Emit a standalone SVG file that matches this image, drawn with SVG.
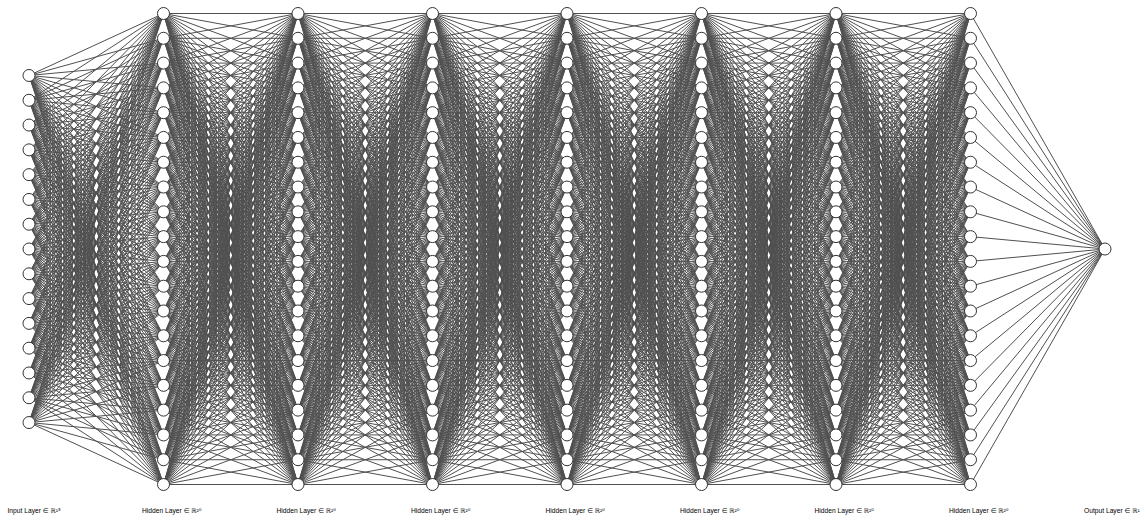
<svg xmlns="http://www.w3.org/2000/svg" width="1141" height="518" viewBox="0 0 1141 518">
<style>
.edge{stroke:#505050;fill:none}
.edge line{stroke-width:1;vector-effect:non-scaling-stroke}
.node circle{fill:#ffffff;stroke:#333333;stroke-width:1}
.label{font-family:"Liberation Sans","DejaVu Sans",sans-serif;font-size:6.7px;fill:#000000}
</style>
<rect width="1141" height="518" fill="#ffffff"/>
<defs>
<g id="fan20" class="edge">
<line x1="0" y1="0" x2="134.5" y2="0" vector-effect="non-scaling-stroke"/>
<line x1="0" y1="0" x2="134.5" y2="24.79" vector-effect="non-scaling-stroke"/>
<line x1="0" y1="0" x2="134.5" y2="49.58" vector-effect="non-scaling-stroke"/>
<line x1="0" y1="0" x2="134.5" y2="74.37" vector-effect="non-scaling-stroke"/>
<line x1="0" y1="0" x2="134.5" y2="99.16" vector-effect="non-scaling-stroke"/>
<line x1="0" y1="0" x2="134.5" y2="123.95" vector-effect="non-scaling-stroke"/>
<line x1="0" y1="0" x2="134.5" y2="148.74" vector-effect="non-scaling-stroke"/>
<line x1="0" y1="0" x2="134.5" y2="173.53" vector-effect="non-scaling-stroke"/>
<line x1="0" y1="0" x2="134.5" y2="198.32" vector-effect="non-scaling-stroke"/>
<line x1="0" y1="0" x2="134.5" y2="223.11" vector-effect="non-scaling-stroke"/>
<line x1="0" y1="0" x2="134.5" y2="247.9" vector-effect="non-scaling-stroke"/>
<line x1="0" y1="0" x2="134.5" y2="272.69" vector-effect="non-scaling-stroke"/>
<line x1="0" y1="0" x2="134.5" y2="297.48" vector-effect="non-scaling-stroke"/>
<line x1="0" y1="0" x2="134.5" y2="322.27" vector-effect="non-scaling-stroke"/>
<line x1="0" y1="0" x2="134.5" y2="347.06" vector-effect="non-scaling-stroke"/>
<line x1="0" y1="0" x2="134.5" y2="371.85" vector-effect="non-scaling-stroke"/>
<line x1="0" y1="0" x2="134.5" y2="396.64" vector-effect="non-scaling-stroke"/>
<line x1="0" y1="0" x2="134.5" y2="421.43" vector-effect="non-scaling-stroke"/>
<line x1="0" y1="0" x2="134.5" y2="446.22" vector-effect="non-scaling-stroke"/>
<line x1="0" y1="0" x2="134.5" y2="471.01" vector-effect="non-scaling-stroke"/>
</g>
<g id="pairH">
<use href="#fan20"/>
<use href="#fan20" transform="matrix(1,-0.184312,0,1,0,24.79)"/>
<use href="#fan20" transform="matrix(1,-0.368624,0,1,0,49.58)"/>
<use href="#fan20" transform="matrix(1,-0.552936,0,1,0,74.37)"/>
<use href="#fan20" transform="matrix(1,-0.737248,0,1,0,99.16)"/>
<use href="#fan20" transform="matrix(1,-0.92156,0,1,0,123.95)"/>
<use href="#fan20" transform="matrix(1,-1.105872,0,1,0,148.74)"/>
<use href="#fan20" transform="matrix(1,-1.290184,0,1,0,173.53)"/>
<use href="#fan20" transform="matrix(1,-1.474496,0,1,0,198.32)"/>
<use href="#fan20" transform="matrix(1,-1.658808,0,1,0,223.11)"/>
<use href="#fan20" transform="matrix(1,-1.84312,0,1,0,247.9)"/>
<use href="#fan20" transform="matrix(1,-2.027432,0,1,0,272.69)"/>
<use href="#fan20" transform="matrix(1,-2.211744,0,1,0,297.48)"/>
<use href="#fan20" transform="matrix(1,-2.396056,0,1,0,322.27)"/>
<use href="#fan20" transform="matrix(1,-2.580368,0,1,0,347.06)"/>
<use href="#fan20" transform="matrix(1,-2.76468,0,1,0,371.85)"/>
<use href="#fan20" transform="matrix(1,-2.948992,0,1,0,396.64)"/>
<use href="#fan20" transform="matrix(1,-3.133304,0,1,0,421.43)"/>
<use href="#fan20" transform="matrix(1,-3.317616,0,1,0,446.22)"/>
<use href="#fan20" transform="matrix(1,-3.501928,0,1,0,471.01)"/>
</g>
</defs>
<g id="connectors">
<g id="edges-input-h1" transform="translate(29,13.5)">
<use href="#fan20" transform="matrix(1,-0.46078,0,1,0,61.975)"/>
<use href="#fan20" transform="matrix(1,-0.645092,0,1,0,86.765)"/>
<use href="#fan20" transform="matrix(1,-0.829404,0,1,0,111.555)"/>
<use href="#fan20" transform="matrix(1,-1.013716,0,1,0,136.345)"/>
<use href="#fan20" transform="matrix(1,-1.198028,0,1,0,161.135)"/>
<use href="#fan20" transform="matrix(1,-1.38234,0,1,0,185.925)"/>
<use href="#fan20" transform="matrix(1,-1.566652,0,1,0,210.715)"/>
<use href="#fan20" transform="matrix(1,-1.750964,0,1,0,235.505)"/>
<use href="#fan20" transform="matrix(1,-1.935276,0,1,0,260.295)"/>
<use href="#fan20" transform="matrix(1,-2.119588,0,1,0,285.085)"/>
<use href="#fan20" transform="matrix(1,-2.3039,0,1,0,309.875)"/>
<use href="#fan20" transform="matrix(1,-2.488212,0,1,0,334.665)"/>
<use href="#fan20" transform="matrix(1,-2.672524,0,1,0,359.455)"/>
<use href="#fan20" transform="matrix(1,-2.856836,0,1,0,384.245)"/>
<use href="#fan20" transform="matrix(1,-3.041148,0,1,0,409.035)"/>
</g>
<use id="edges-h1-h2" href="#pairH" transform="translate(163.5,13.5)"/>
<use id="edges-h2-h3" href="#pairH" transform="translate(298,13.5)"/>
<use id="edges-h3-h4" href="#pairH" transform="translate(432.5,13.5)"/>
<use id="edges-h4-h5" href="#pairH" transform="translate(567,13.5)"/>
<use id="edges-h5-h6" href="#pairH" transform="translate(701.5,13.5)"/>
<use id="edges-h6-h7" href="#pairH" transform="translate(836,13.5)"/>
<use id="edges-h7-out" href="#fan20" transform="translate(1105,13.5) scale(-1,1) matrix(1,-1.750964,0,1,0,235.505)"/>
</g>
<g id="layer-input">
<g id="in0" class="node"><circle cx="29" cy="75.48" r="6"/></g>
<g id="in1" class="node"><circle cx="29" cy="100.27" r="6"/></g>
<g id="in2" class="node"><circle cx="29" cy="125.06" r="6"/></g>
<g id="in3" class="node"><circle cx="29" cy="149.85" r="6"/></g>
<g id="in4" class="node"><circle cx="29" cy="174.64" r="6"/></g>
<g id="in5" class="node"><circle cx="29" cy="199.43" r="6"/></g>
<g id="in6" class="node"><circle cx="29" cy="224.22" r="6"/></g>
<g id="in7" class="node"><circle cx="29" cy="249.01" r="6"/></g>
<g id="in8" class="node"><circle cx="29" cy="273.8" r="6"/></g>
<g id="in9" class="node"><circle cx="29" cy="298.59" r="6"/></g>
<g id="in10" class="node"><circle cx="29" cy="323.38" r="6"/></g>
<g id="in11" class="node"><circle cx="29" cy="348.17" r="6"/></g>
<g id="in12" class="node"><circle cx="29" cy="372.96" r="6"/></g>
<g id="in13" class="node"><circle cx="29" cy="397.75" r="6"/></g>
<g id="in14" class="node"><circle cx="29" cy="422.54" r="6"/></g>
</g>
<g id="layer-h1">
<g id="h1_0" class="node"><circle cx="163.5" cy="13.5" r="6"/></g>
<g id="h1_1" class="node"><circle cx="163.5" cy="38.29" r="6"/></g>
<g id="h1_2" class="node"><circle cx="163.5" cy="63.08" r="6"/></g>
<g id="h1_3" class="node"><circle cx="163.5" cy="87.87" r="6"/></g>
<g id="h1_4" class="node"><circle cx="163.5" cy="112.66" r="6"/></g>
<g id="h1_5" class="node"><circle cx="163.5" cy="137.45" r="6"/></g>
<g id="h1_6" class="node"><circle cx="163.5" cy="162.24" r="6"/></g>
<g id="h1_7" class="node"><circle cx="163.5" cy="187.03" r="6"/></g>
<g id="h1_8" class="node"><circle cx="163.5" cy="211.82" r="6"/></g>
<g id="h1_9" class="node"><circle cx="163.5" cy="236.61" r="6"/></g>
<g id="h1_10" class="node"><circle cx="163.5" cy="261.4" r="6"/></g>
<g id="h1_11" class="node"><circle cx="163.5" cy="286.19" r="6"/></g>
<g id="h1_12" class="node"><circle cx="163.5" cy="310.98" r="6"/></g>
<g id="h1_13" class="node"><circle cx="163.5" cy="335.77" r="6"/></g>
<g id="h1_14" class="node"><circle cx="163.5" cy="360.56" r="6"/></g>
<g id="h1_15" class="node"><circle cx="163.5" cy="385.35" r="6"/></g>
<g id="h1_16" class="node"><circle cx="163.5" cy="410.14" r="6"/></g>
<g id="h1_17" class="node"><circle cx="163.5" cy="434.93" r="6"/></g>
<g id="h1_18" class="node"><circle cx="163.5" cy="459.72" r="6"/></g>
<g id="h1_19" class="node"><circle cx="163.5" cy="484.51" r="6"/></g>
</g>
<g id="layer-h2">
<g id="h2_0" class="node"><circle cx="298" cy="13.5" r="6"/></g>
<g id="h2_1" class="node"><circle cx="298" cy="38.29" r="6"/></g>
<g id="h2_2" class="node"><circle cx="298" cy="63.08" r="6"/></g>
<g id="h2_3" class="node"><circle cx="298" cy="87.87" r="6"/></g>
<g id="h2_4" class="node"><circle cx="298" cy="112.66" r="6"/></g>
<g id="h2_5" class="node"><circle cx="298" cy="137.45" r="6"/></g>
<g id="h2_6" class="node"><circle cx="298" cy="162.24" r="6"/></g>
<g id="h2_7" class="node"><circle cx="298" cy="187.03" r="6"/></g>
<g id="h2_8" class="node"><circle cx="298" cy="211.82" r="6"/></g>
<g id="h2_9" class="node"><circle cx="298" cy="236.61" r="6"/></g>
<g id="h2_10" class="node"><circle cx="298" cy="261.4" r="6"/></g>
<g id="h2_11" class="node"><circle cx="298" cy="286.19" r="6"/></g>
<g id="h2_12" class="node"><circle cx="298" cy="310.98" r="6"/></g>
<g id="h2_13" class="node"><circle cx="298" cy="335.77" r="6"/></g>
<g id="h2_14" class="node"><circle cx="298" cy="360.56" r="6"/></g>
<g id="h2_15" class="node"><circle cx="298" cy="385.35" r="6"/></g>
<g id="h2_16" class="node"><circle cx="298" cy="410.14" r="6"/></g>
<g id="h2_17" class="node"><circle cx="298" cy="434.93" r="6"/></g>
<g id="h2_18" class="node"><circle cx="298" cy="459.72" r="6"/></g>
<g id="h2_19" class="node"><circle cx="298" cy="484.51" r="6"/></g>
</g>
<g id="layer-h3">
<g id="h3_0" class="node"><circle cx="432.5" cy="13.5" r="6"/></g>
<g id="h3_1" class="node"><circle cx="432.5" cy="38.29" r="6"/></g>
<g id="h3_2" class="node"><circle cx="432.5" cy="63.08" r="6"/></g>
<g id="h3_3" class="node"><circle cx="432.5" cy="87.87" r="6"/></g>
<g id="h3_4" class="node"><circle cx="432.5" cy="112.66" r="6"/></g>
<g id="h3_5" class="node"><circle cx="432.5" cy="137.45" r="6"/></g>
<g id="h3_6" class="node"><circle cx="432.5" cy="162.24" r="6"/></g>
<g id="h3_7" class="node"><circle cx="432.5" cy="187.03" r="6"/></g>
<g id="h3_8" class="node"><circle cx="432.5" cy="211.82" r="6"/></g>
<g id="h3_9" class="node"><circle cx="432.5" cy="236.61" r="6"/></g>
<g id="h3_10" class="node"><circle cx="432.5" cy="261.4" r="6"/></g>
<g id="h3_11" class="node"><circle cx="432.5" cy="286.19" r="6"/></g>
<g id="h3_12" class="node"><circle cx="432.5" cy="310.98" r="6"/></g>
<g id="h3_13" class="node"><circle cx="432.5" cy="335.77" r="6"/></g>
<g id="h3_14" class="node"><circle cx="432.5" cy="360.56" r="6"/></g>
<g id="h3_15" class="node"><circle cx="432.5" cy="385.35" r="6"/></g>
<g id="h3_16" class="node"><circle cx="432.5" cy="410.14" r="6"/></g>
<g id="h3_17" class="node"><circle cx="432.5" cy="434.93" r="6"/></g>
<g id="h3_18" class="node"><circle cx="432.5" cy="459.72" r="6"/></g>
<g id="h3_19" class="node"><circle cx="432.5" cy="484.51" r="6"/></g>
</g>
<g id="layer-h4">
<g id="h4_0" class="node"><circle cx="567" cy="13.5" r="6"/></g>
<g id="h4_1" class="node"><circle cx="567" cy="38.29" r="6"/></g>
<g id="h4_2" class="node"><circle cx="567" cy="63.08" r="6"/></g>
<g id="h4_3" class="node"><circle cx="567" cy="87.87" r="6"/></g>
<g id="h4_4" class="node"><circle cx="567" cy="112.66" r="6"/></g>
<g id="h4_5" class="node"><circle cx="567" cy="137.45" r="6"/></g>
<g id="h4_6" class="node"><circle cx="567" cy="162.24" r="6"/></g>
<g id="h4_7" class="node"><circle cx="567" cy="187.03" r="6"/></g>
<g id="h4_8" class="node"><circle cx="567" cy="211.82" r="6"/></g>
<g id="h4_9" class="node"><circle cx="567" cy="236.61" r="6"/></g>
<g id="h4_10" class="node"><circle cx="567" cy="261.4" r="6"/></g>
<g id="h4_11" class="node"><circle cx="567" cy="286.19" r="6"/></g>
<g id="h4_12" class="node"><circle cx="567" cy="310.98" r="6"/></g>
<g id="h4_13" class="node"><circle cx="567" cy="335.77" r="6"/></g>
<g id="h4_14" class="node"><circle cx="567" cy="360.56" r="6"/></g>
<g id="h4_15" class="node"><circle cx="567" cy="385.35" r="6"/></g>
<g id="h4_16" class="node"><circle cx="567" cy="410.14" r="6"/></g>
<g id="h4_17" class="node"><circle cx="567" cy="434.93" r="6"/></g>
<g id="h4_18" class="node"><circle cx="567" cy="459.72" r="6"/></g>
<g id="h4_19" class="node"><circle cx="567" cy="484.51" r="6"/></g>
</g>
<g id="layer-h5">
<g id="h5_0" class="node"><circle cx="701.5" cy="13.5" r="6"/></g>
<g id="h5_1" class="node"><circle cx="701.5" cy="38.29" r="6"/></g>
<g id="h5_2" class="node"><circle cx="701.5" cy="63.08" r="6"/></g>
<g id="h5_3" class="node"><circle cx="701.5" cy="87.87" r="6"/></g>
<g id="h5_4" class="node"><circle cx="701.5" cy="112.66" r="6"/></g>
<g id="h5_5" class="node"><circle cx="701.5" cy="137.45" r="6"/></g>
<g id="h5_6" class="node"><circle cx="701.5" cy="162.24" r="6"/></g>
<g id="h5_7" class="node"><circle cx="701.5" cy="187.03" r="6"/></g>
<g id="h5_8" class="node"><circle cx="701.5" cy="211.82" r="6"/></g>
<g id="h5_9" class="node"><circle cx="701.5" cy="236.61" r="6"/></g>
<g id="h5_10" class="node"><circle cx="701.5" cy="261.4" r="6"/></g>
<g id="h5_11" class="node"><circle cx="701.5" cy="286.19" r="6"/></g>
<g id="h5_12" class="node"><circle cx="701.5" cy="310.98" r="6"/></g>
<g id="h5_13" class="node"><circle cx="701.5" cy="335.77" r="6"/></g>
<g id="h5_14" class="node"><circle cx="701.5" cy="360.56" r="6"/></g>
<g id="h5_15" class="node"><circle cx="701.5" cy="385.35" r="6"/></g>
<g id="h5_16" class="node"><circle cx="701.5" cy="410.14" r="6"/></g>
<g id="h5_17" class="node"><circle cx="701.5" cy="434.93" r="6"/></g>
<g id="h5_18" class="node"><circle cx="701.5" cy="459.72" r="6"/></g>
<g id="h5_19" class="node"><circle cx="701.5" cy="484.51" r="6"/></g>
</g>
<g id="layer-h6">
<g id="h6_0" class="node"><circle cx="836" cy="13.5" r="6"/></g>
<g id="h6_1" class="node"><circle cx="836" cy="38.29" r="6"/></g>
<g id="h6_2" class="node"><circle cx="836" cy="63.08" r="6"/></g>
<g id="h6_3" class="node"><circle cx="836" cy="87.87" r="6"/></g>
<g id="h6_4" class="node"><circle cx="836" cy="112.66" r="6"/></g>
<g id="h6_5" class="node"><circle cx="836" cy="137.45" r="6"/></g>
<g id="h6_6" class="node"><circle cx="836" cy="162.24" r="6"/></g>
<g id="h6_7" class="node"><circle cx="836" cy="187.03" r="6"/></g>
<g id="h6_8" class="node"><circle cx="836" cy="211.82" r="6"/></g>
<g id="h6_9" class="node"><circle cx="836" cy="236.61" r="6"/></g>
<g id="h6_10" class="node"><circle cx="836" cy="261.4" r="6"/></g>
<g id="h6_11" class="node"><circle cx="836" cy="286.19" r="6"/></g>
<g id="h6_12" class="node"><circle cx="836" cy="310.98" r="6"/></g>
<g id="h6_13" class="node"><circle cx="836" cy="335.77" r="6"/></g>
<g id="h6_14" class="node"><circle cx="836" cy="360.56" r="6"/></g>
<g id="h6_15" class="node"><circle cx="836" cy="385.35" r="6"/></g>
<g id="h6_16" class="node"><circle cx="836" cy="410.14" r="6"/></g>
<g id="h6_17" class="node"><circle cx="836" cy="434.93" r="6"/></g>
<g id="h6_18" class="node"><circle cx="836" cy="459.72" r="6"/></g>
<g id="h6_19" class="node"><circle cx="836" cy="484.51" r="6"/></g>
</g>
<g id="layer-h7">
<g id="h7_0" class="node"><circle cx="970.5" cy="13.5" r="6"/></g>
<g id="h7_1" class="node"><circle cx="970.5" cy="38.29" r="6"/></g>
<g id="h7_2" class="node"><circle cx="970.5" cy="63.08" r="6"/></g>
<g id="h7_3" class="node"><circle cx="970.5" cy="87.87" r="6"/></g>
<g id="h7_4" class="node"><circle cx="970.5" cy="112.66" r="6"/></g>
<g id="h7_5" class="node"><circle cx="970.5" cy="137.45" r="6"/></g>
<g id="h7_6" class="node"><circle cx="970.5" cy="162.24" r="6"/></g>
<g id="h7_7" class="node"><circle cx="970.5" cy="187.03" r="6"/></g>
<g id="h7_8" class="node"><circle cx="970.5" cy="211.82" r="6"/></g>
<g id="h7_9" class="node"><circle cx="970.5" cy="236.61" r="6"/></g>
<g id="h7_10" class="node"><circle cx="970.5" cy="261.4" r="6"/></g>
<g id="h7_11" class="node"><circle cx="970.5" cy="286.19" r="6"/></g>
<g id="h7_12" class="node"><circle cx="970.5" cy="310.98" r="6"/></g>
<g id="h7_13" class="node"><circle cx="970.5" cy="335.77" r="6"/></g>
<g id="h7_14" class="node"><circle cx="970.5" cy="360.56" r="6"/></g>
<g id="h7_15" class="node"><circle cx="970.5" cy="385.35" r="6"/></g>
<g id="h7_16" class="node"><circle cx="970.5" cy="410.14" r="6"/></g>
<g id="h7_17" class="node"><circle cx="970.5" cy="434.93" r="6"/></g>
<g id="h7_18" class="node"><circle cx="970.5" cy="459.72" r="6"/></g>
<g id="h7_19" class="node"><circle cx="970.5" cy="484.51" r="6"/></g>
</g>
<g id="layer-output">
<g id="out0" class="node"><circle cx="1105" cy="249.01" r="6"/></g>
</g>
<g id="labels" class="label">
<text x="7.5" y="513">Input Layer ∈ ℝ¹⁵</text>
<text x="142" y="513">Hidden Layer ∈ ℝ²⁰</text>
<text x="276.5" y="513">Hidden Layer ∈ ℝ²⁰</text>
<text x="411" y="513">Hidden Layer ∈ ℝ²⁰</text>
<text x="545.5" y="513">Hidden Layer ∈ ℝ²⁰</text>
<text x="680" y="513">Hidden Layer ∈ ℝ²⁰</text>
<text x="814.5" y="513">Hidden Layer ∈ ℝ²⁰</text>
<text x="949" y="513">Hidden Layer ∈ ℝ²⁰</text>
<text x="1084" y="513">Output Layer ∈ ℝ¹</text>
</g>
</svg>
